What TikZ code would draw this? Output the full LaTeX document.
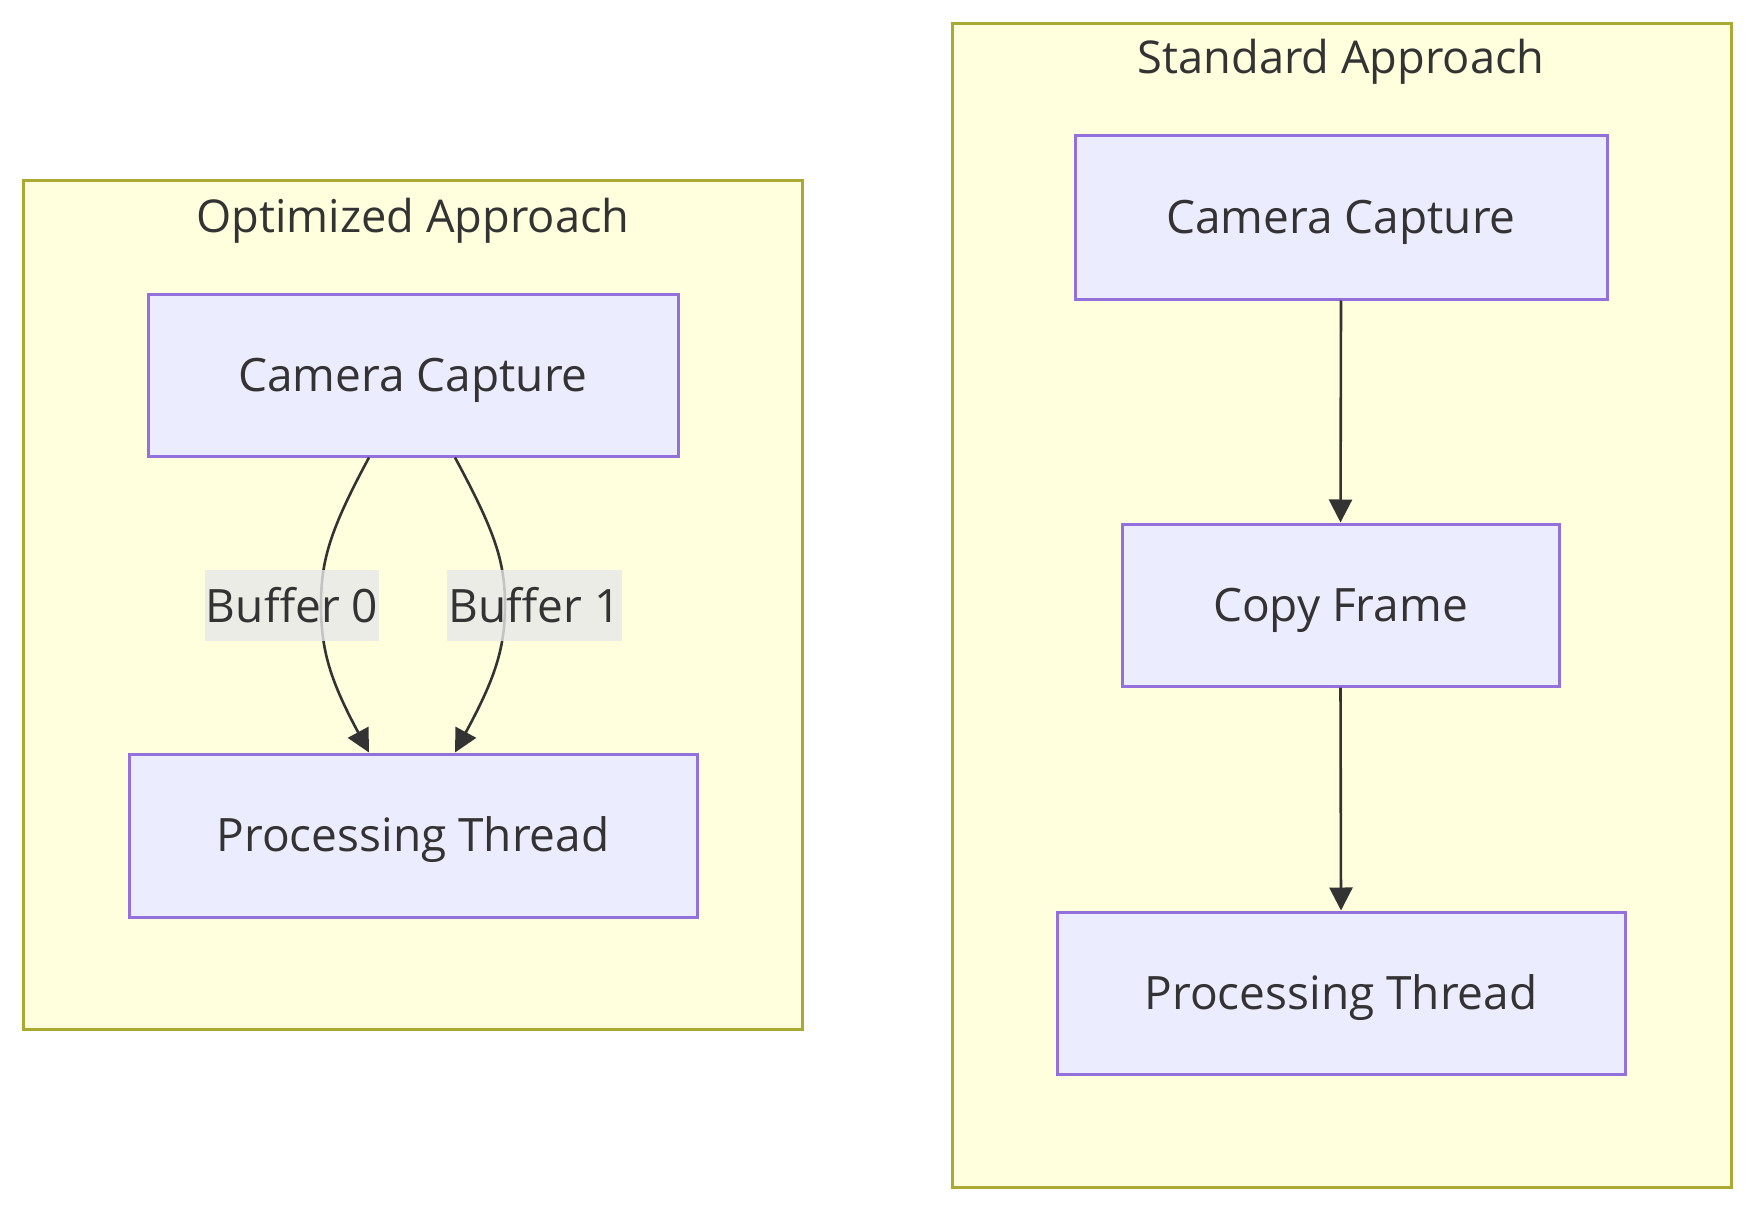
\documentclass[tikz,border=0pt]{standalone}
\usepackage{fontspec}
\setmainfont{Open Sans}
\usetikzlibrary{arrows.meta}
\definecolor{clfill}{HTML}{FFFFDE}
\definecolor{cldraw}{HTML}{AAAA33}
\definecolor{ndfill}{HTML}{ECECFF}
\definecolor{nddraw}{HTML}{9370DB}
\definecolor{txt}{HTML}{333333}
\definecolor{lblbg}{HTML}{E8E8E8}
\tikzset{
  cluster/.style={draw=cldraw, fill=clfill, line width=1.5pt},
  cltitle/.style={text=txt, font=\fontsize{22.6}{27}\selectfont, inner sep=0pt},
  box/.style={draw=nddraw, fill=ndfill, line width=1.5pt, text=txt,
    font=\fontsize{23}{27}\selectfont, inner sep=0pt, text height=19pt, text depth=3pt},
  edge/.style={draw=txt, line width=1.3pt, -{Triangle[length=11.5pt,width=11.5pt]}},
  elabel/.style={fill=lblbg, fill opacity=0.8, text opacity=1, text=txt,
    font=\fontsize{23}{27}\selectfont, inner xsep=0.5pt, inner ysep=0pt,
    minimum height=35.5pt}
}
\begin{document}
\begin{tikzpicture}[x=0.5pt,y=-0.5pt]
\useasboundingbox[fill=white] (0,0) rectangle (1750,1209);
% clusters
\path[cluster] (23.5,181) rectangle (802,1029);
\path[cluster] (952,23.5) rectangle (1731,1187);
\node[cltitle] (topt) at (413,221) {Optimized Approach};
\node[cltitle] (tstd) at (1341,62) {Standard Approach};
% left nodes
\node[box, minimum width=265pt, minimum height=81pt] (lcam) at (413,375) {Camera Capture};
\node[box, minimum width=284pt, minimum height=81.5pt] (lproc) at (413,835.5) {Processing Thread};
% right nodes
\node[box, minimum width=266pt, minimum height=81.5pt] (rcam) at (1341,217.5) {Camera Capture};
\node[box, minimum width=218.5pt, minimum height=81pt] (rcopy) at (1340.5,605) {Copy Frame};
\node[box, minimum width=284pt, minimum height=81pt] (rproc) at (1341,993) {Processing Thread};
% left edges
\draw[edge] ([xshift=-22pt]lcam.south) .. controls (330,530) and (321,560) .. (321,605)
  .. controls (321,650) and (330,680) .. ([xshift=-22pt]lproc.north);
\draw[edge] ([xshift=21pt]lcam.south) .. controls (494,530) and (505,560) .. (505,605)
  .. controls (505,650) and (494,680) .. ([xshift=21pt]lproc.north);
\node[elabel] (b0) at (292,605.5) {Buffer 0};
\node[elabel] (b1) at (534.5,605.5) {Buffer 1};
% right edges
\draw[edge] (rcam.south) -- (rcopy.north);
\draw[edge] (rcopy.south) -- (rproc.north);
\end{tikzpicture}
\end{document}
